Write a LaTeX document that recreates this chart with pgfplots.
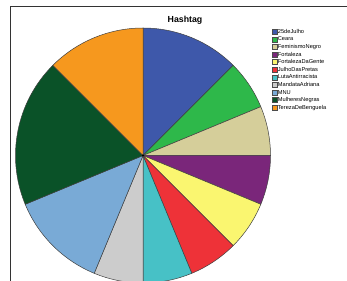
\documentclass[border=0pt]{standalone}
\usepackage{pgfplots}
\usepackage{pgfplotstable}
\pgfplotsset{compat=1.18}
\usepackage{fontspec}
\setmainfont{Liberation Sans}

\definecolor{c0}{RGB}{62,88,170}
\definecolor{c1}{RGB}{46,184,74}
\definecolor{c2}{RGB}{213,206,154}
\definecolor{c3}{RGB}{122,38,122}
\definecolor{c4}{RGB}{250,246,112}
\definecolor{c5}{RGB}{238,50,56}
\definecolor{c6}{RGB}{71,193,198}
\definecolor{c7}{RGB}{204,204,204}
\definecolor{c8}{RGB}{121,170,214}
\definecolor{c9}{RGB}{10,82,40}
\definecolor{c10}{RGB}{246,152,30}

\pgfplotstableread{
name value
25deJulho 2
Ceara 1
FeminismoNegro 1
Fortaleza 1
FortalezaDaGente 1
JulhoDasPretas 1
LutaAntirracista 1
MandataAdriana 1
MNU 2
MulheresNegras 3
TerezaDeBenguela 2
}\piedata

\begin{document}
\begin{tikzpicture}
\begin{axis}[
  x=1bp, y=1bp,
  xmin=0, xmax=347, ymin=0, ymax=281,
  axis line style={draw=none},
  ticks=none,
  clip=true,
  legend image code/.code={\draw[#1] (0bp,-2.5bp) rectangle (5.2bp,2.5bp);},
  legend style={
    at={(271.5/347,253/281)}, anchor=north west,
    draw=none, fill=none, inner sep=0pt,
    font=\fontsize{5.7}{6}\selectfont,
    nodes={inner sep=0.6bp, text height=4.4bp, text depth=1.4bp, anchor=west},
    row sep=0.6bp,
  },
  legend cell align=left,
]
\pgfplotsextra{
  \xdef\total{0}
  \foreach \i in {0,...,10} {
    \pgfplotstablegetelem{\i}{value}\of\piedata
    \pgfmathsetmacro{\tmp}{\total+\pgfplotsretval}
    \global\let\total\tmp
  }
  \xdef\curangle{90}
  \foreach \i in {0,...,10} {
    \pgfplotstablegetelem{\i}{value}\of\piedata
    \pgfmathsetmacro{\endangle}{\curangle - 360*\pgfplotsretval/\total}
    \filldraw[fill=c\i, draw=black!75, line width=0.5bp]
      (axis cs:143,125.5) -- ++(\curangle:127.5bp)
      arc[start angle=\curangle, end angle=\endangle, radius=127.5bp] -- cycle;
    \global\let\curangle\endangle
  }
  \fill[black] (axis cs:143,125.5) circle[radius=1.2bp];
  \draw[black!80, line width=1bp] (axis cs:10,-5) -- (axis cs:10,274) -- (axis cs:352,274);
  \node[font=\bfseries\fontsize{8.8}{10}\selectfont] at (axis cs:185,260.5) {Hashtag};
}
\addlegendimage{fill=c0, draw=black!70}\addlegendentry{25deJulho}
\addlegendimage{fill=c1, draw=black!70}\addlegendentry{Ceara}
\addlegendimage{fill=c2, draw=black!70}\addlegendentry{FeminismoNegro}
\addlegendimage{fill=c3, draw=black!70}\addlegendentry{Fortaleza}
\addlegendimage{fill=c4, draw=black!70}\addlegendentry{FortalezaDaGente}
\addlegendimage{fill=c5, draw=black!70}\addlegendentry{JulhoDasPretas}
\addlegendimage{fill=c6, draw=black!70}\addlegendentry{LutaAntirracista}
\addlegendimage{fill=c7, draw=black!70}\addlegendentry{MandataAdriana}
\addlegendimage{fill=c8, draw=black!70}\addlegendentry{MNU}
\addlegendimage{fill=c9, draw=black!70}\addlegendentry{MulheresNegras}
\addlegendimage{fill=c10, draw=black!70}\addlegendentry{TerezaDeBenguela}
\end{axis}
\end{tikzpicture}
\end{document}
